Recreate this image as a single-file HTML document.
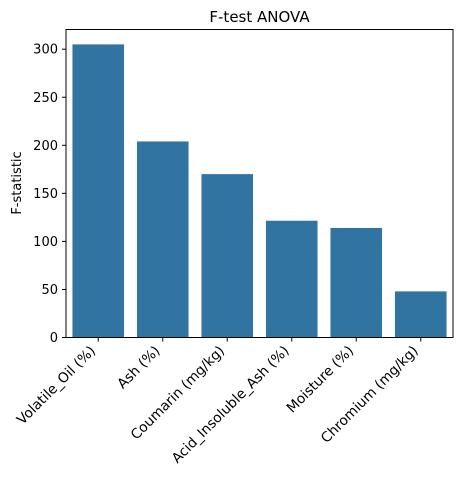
<!DOCTYPE html>
<html><head><meta charset="utf-8"><style>
body{margin:0;background:#fff;}
svg{display:block;font-family:"DejaVu Sans","Liberation Sans",sans-serif;}
</style></head><body>
<svg id="chart" width="463" height="480">
<text x="259.5" y="22" text-anchor="middle" font-size="15" fill="#000">F-test ANOVA</text>
<text transform="translate(21,183) rotate(-90)" text-anchor="middle" font-size="13" fill="#000">F-statistic</text>
<g id="bars"></g><g id="yticks"></g><g id="xticks"></g>
<rect x="66" y="29.5" width="387" height="308" fill="none" stroke="#000" stroke-width="1"/>
</svg>
<script>
const categories=["Volatile_Oil (%)","Ash (%)","Coumarin (mg/kg)","Acid_Insoluble_Ash (%)","Moisture (%)","Chromium (mg/kg)"];
const values=[305,204,170,121.5,114,48];
const yTicks=[0,50,100,150,200,250,300];
const L=66,R=453,T=29.5,B=337.5,yMax=320.5;
const y=v=>B-(v/yMax)*(B-T);
const band=(R-L)/categories.length;
const x=i=>L+band*(i+0.5);
const ns="http://www.w3.org/2000/svg";
const bars=document.getElementById('bars'),yt=document.getElementById('yticks'),xt=document.getElementById('xticks');
function mk(t,a){const e=document.createElementNS(ns,t);for(const k in a)e.setAttribute(k,a[k]);return e;}
values.forEach((v,i)=>{
 const w=band*0.8;
 const r=mk('rect',{x:x(i)-w/2,y:y(v),width:w,height:B-y(v),fill:'#3274a1'});
 
 
 bars.appendChild(r);
 const tk=mk('line',{x1:x(i),x2:x(i),y1:B,y2:B+4,stroke:'#000'});
 
 
 xt.appendChild(tk);
 const t=mk('text',{transform:`translate(${x(i)-2},${B+14}) rotate(-45)`,'text-anchor':'end','font-size':'13.8',fill:'#000'});
 t.textContent=categories[i];
 
 
 xt.appendChild(t);
});
yTicks.forEach(v=>{
 const tk=mk('line',{x1:L-4,x2:L,y1:y(v),y2:y(v),stroke:'#000'});
 
 
 yt.appendChild(tk);
 const t=mk('text',{x:L-8,y:y(v)+4.5,'text-anchor':'end','font-size':'13',fill:'#000'});
 t.textContent=v;
 
 
 yt.appendChild(t);
});
</script>
</body></html>
